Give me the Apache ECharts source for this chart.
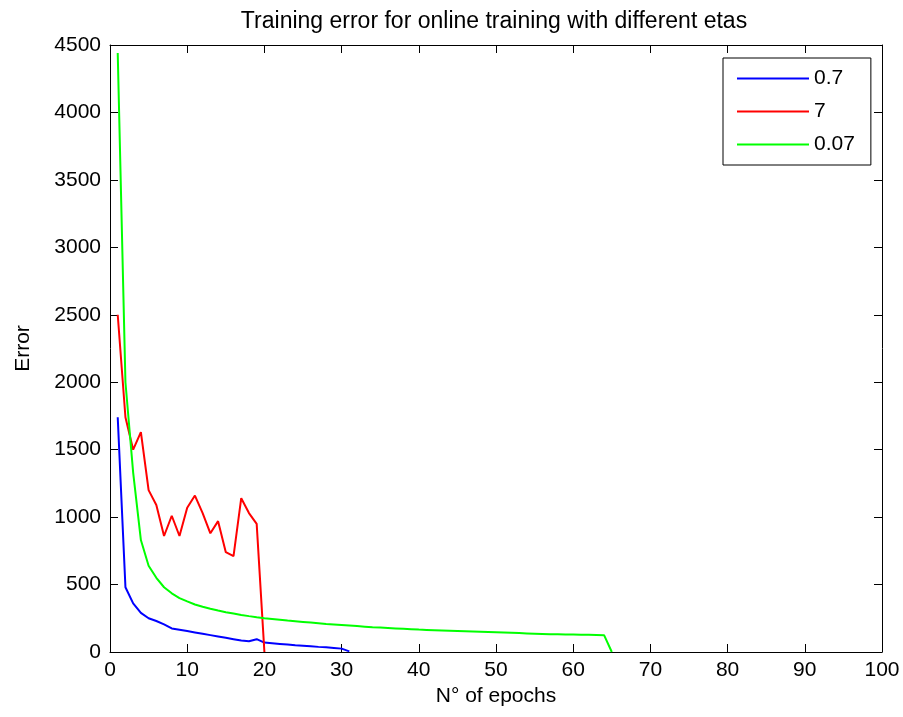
<!DOCTYPE html>
<html>
<head>
<meta charset="utf-8">
<script src="https://cdn.jsdelivr.net/npm/echarts@6/dist/echarts.min.js"></script>
<style>
html,body{margin:0;padding:0;background:#fff;}
#chart{width:903px;height:717px;}
</style>
</head>
<body>
<div id="chart"></div>
<script>
var titleText = 'Training error for online training with different etas';
var xName = 'N° of epochs';
var yName = 'Error';
var xTicks = [0, 10, 20, 30, 40, 50, 60, 70, 80, 90, 100];
var yTicks = [0, 500, 1000, 1500, 2000, 2500, 3000, 3500, 4000, 4500];
var seriesNames = ['0.7', '7', '0.07'];
var seriesColors = ['#0000ff', '#ff0000', '#00ff00'];

// error per epoch (epoch 1, 2, 3, ...)
var errEta07 = [1740, 480, 360, 290, 250, 230, 205, 175, 165, 155,
                145, 135, 125, 115, 105, 95, 85, 80, 95, 70,
                65, 60, 55, 50, 47, 43, 38, 35, 30, 25, 5];
var errEta7 = [2500, 1740, 1500, 1630, 1200, 1090, 860, 1010, 860, 1070,
               1160, 1030, 880, 970, 740, 710, 1140, 1030, 950, 0];
var errEta007 = [4440, 2000, 1330, 830, 640, 550, 480, 435, 400, 375,
                 352, 335, 320, 307, 295, 285, 275, 266, 258, 251,
                 245, 239, 233, 228, 223, 218, 213, 208, 204, 200,
                 196, 192, 188, 184, 181, 178, 175, 172, 169, 166,
                 164, 162, 160, 158, 156, 154, 152, 150, 148, 146,
                 144, 142, 140, 138, 136, 134, 132, 131, 130, 129,
                 128, 127, 126, 125, 0];

function toPairs(arr){
  return arr.map(function(v, i){ return [i + 1, v]; });
}
var allSeries = [errEta07, errEta7, errEta007];

var FONT = 'Liberation Sans, Arial, Helvetica, sans-serif';
var chart = echarts.init(document.getElementById('chart'), null, {renderer: 'canvas'});

var axisCommon = {
  axisLine: {show: true, onZero: false, lineStyle: {color: '#000', width: 1}},
  axisTick: {show: true, inside: true, length: 8, lineStyle: {color: '#000', width: 1}},
  splitLine: {show: false}
};
function plainNum(v){ return String(v); }

var option = {
  backgroundColor: '#fff',
  animation: false,
  title: {
    text: titleText,
    left: 489,
    textAlign: 'center',
    top: 5,
    textStyle: {fontFamily: FONT, fontSize: 23, fontWeight: 'normal', color: '#000'}
  },
  legend: {
    orient: 'vertical',
    left: 723,
    top: 58,
    data: seriesNames,
    icon: 'rect',
    itemWidth: 72,
    itemHeight: 2,
    itemGap: 12,
    padding: [10, 16, 10, 14],
    borderColor: '#000',
    borderWidth: 1,
    backgroundColor: '#fff',
    textStyle: {fontFamily: FONT, fontSize: 21, color: '#000'}
  },
  grid: {left: 110, right: 21, top: 45, bottom: 65, containLabel: false},
  xAxis: [
    Object.assign({
      type: 'value', min: xTicks[0], max: xTicks[xTicks.length - 1], interval: xTicks[1] - xTicks[0],
      position: 'bottom',
      name: xName, nameLocation: 'middle', nameGap: 34,
      nameTextStyle: {fontFamily: FONT, fontSize: 21, color: '#000'},
      axisLabel: {show: true, margin: 8, fontFamily: FONT, fontSize: 21, color: '#000', formatter: plainNum}
    }, axisCommon),
    Object.assign({
      type: 'value', min: xTicks[0], max: xTicks[xTicks.length - 1], interval: xTicks[1] - xTicks[0],
      position: 'top',
      axisLabel: {show: false}
    }, axisCommon)
  ],
  yAxis: [
    Object.assign({
      type: 'value', min: yTicks[0], max: yTicks[yTicks.length - 1], interval: yTicks[1] - yTicks[0],
      position: 'left',
      name: yName, nameLocation: 'middle', nameGap: 76, nameRotate: 90,
      nameTextStyle: {fontFamily: FONT, fontSize: 21, color: '#000'},
      axisLabel: {show: true, margin: 9, fontFamily: FONT, fontSize: 21, color: '#000', formatter: plainNum}
    }, axisCommon),
    Object.assign({
      type: 'value', min: yTicks[0], max: yTicks[yTicks.length - 1], interval: yTicks[1] - yTicks[0],
      position: 'right',
      axisLabel: {show: false}
    }, axisCommon)
  ],
  series: seriesNames.map(function(name, k){
    return {
      name: name,
      type: 'line',
      xAxisIndex: 0,
      yAxisIndex: 0,
      data: toPairs(allSeries[k]),
      showSymbol: false,
      symbol: 'none',
      lineStyle: {color: seriesColors[k], width: 2},
      itemStyle: {color: seriesColors[k]},
      z: 2
    };
  })
};
chart.setOption(option);
</script>
</body>
</html>
